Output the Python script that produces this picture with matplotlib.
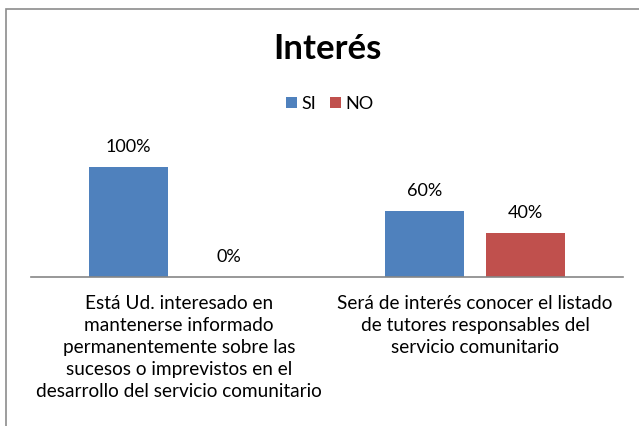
import numpy as np
import matplotlib.pyplot as plt
from matplotlib.patches import Rectangle

plt.rcParams['font.family'] = ['Lato', 'DejaVu Sans']

# chart data
categories = [
    "Está Ud. interesado en\nmantenerse informado\npermanentemente sobre las\nsucesos o imprevistos en el\ndesarrollo del servicio comunitario",
    "Será de interés conocer el listado\nde tutores responsables del\nservicio comunitario",
]
series_names = ["SI", "NO"]
si_values = [1.00, 0.60]
no_values = [0.00, 0.40]
colors = ["#4F81BD", "#C0504D"]

W, H = 639, 426
fig = plt.figure(figsize=(W / 100, H / 100), dpi=100)

# chart border (runs off the right and bottom edges)
fig.patches.append(Rectangle((6 / W, -0.1), 1.2, 1.1 - 9 / H, transform=fig.transFigure,
                             fill=False, edgecolor="#8C8C8C", linewidth=1.2))

ax = fig.add_axes([31 / W, (H - 277) / H, 592 / W, 132 / H])
x = np.arange(len(categories))
bw = 0.267
off = 0.17

bars_si = ax.bar(x - off, si_values, bw, color=colors[0], label=series_names[0])
bars_no = ax.bar(x + off, no_values, bw, color=colors[1], label=series_names[1])

for bars, vals in [(bars_si, si_values), (bars_no, no_values)]:
    for b, v in zip(bars, vals):
        ax.annotate(f"{v:.0%}", (b.get_x() + b.get_width() / 2, v),
                    xytext=(0, 14.5), textcoords="offset points",
                    ha="center", va="center", fontsize=13)

ax.set_xlim(-0.5, 1.5)
ax.set_ylim(0, 1.2)
ax.set_yticks([])
ax.set_xticks(x)
ax.set_xticklabels(categories, fontsize=13.7, linespacing=1.36, va="top")
ax.tick_params(axis="x", length=0, pad=13)
for s in ["top", "left", "right"]:
    ax.spines[s].set_visible(False)
ax.spines["bottom"].set_color("#868686")
ax.spines["bottom"].set_linewidth(1.2)

fig.text(327 / W, 1 - 49 / H, "Interés", ha="center", va="center",
         fontsize=25, fontweight="bold")
fig.legend(loc="center", bbox_to_anchor=(330 / W, 1 - 104 / H), ncol=2,
           frameon=False, fontsize=13, handlelength=0.6, handleheight=0.6,
           handletextpad=0.25, columnspacing=0.75)

fig.savefig("out.png", dpi=100)
